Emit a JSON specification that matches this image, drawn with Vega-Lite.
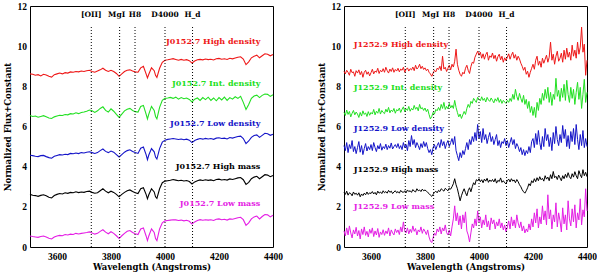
{
"$schema": "https://vega.github.io/schema/vega-lite/v6.json",
"padding": {"left": 2, "top": 0, "right": 0, "bottom": 0},
"bounds": "flush",
"spacing": 71,
"config": {"view": {"stroke": "black", "strokeWidth": 1}, "axis": {"grid": false, "domain": false, "labelColor": "black", "titleColor": "black", "tickColor": "black", "tickWidth": 1}},
"datasets": {
"lines": [{"n":"[OII]","w":3727},{"n":"MgI","w":3832},{"n":"H8","w":3889},{"n":"D4000","w":4000},{"n":"H_d","w":4102}],
"labL": [{"t":"J0152.7 High density","s":"HD","w":4353,"f":10.2},{"t":"J0152.7 Int. density","s":"ID","w":4353,"f":8.12},{"t":"J0152.7 Low density","s":"LD","w":4353,"f":6.1},{"t":"J0152.7 High mass","s":"HM","w":4353,"f":3.98},{"t":"J0152.7 Low mass","s":"LM","w":4353,"f":2.16}],
"labR": [{"t":"J1252.9 High density","s":"HD","w":3536,"f":10.05},{"t":"J1252.9 Int. density","s":"ID","w":3536,"f":7.92},{"t":"J1252.9 Low density","s":"LD","w":3536,"f":5.9},{"t":"J1252.9 High mass","s":"HM","w":3536,"f":3.82},{"t":"J1252.9 Low mass","s":"LM","w":3536,"f":2.0}],
"L": [
{"s":"HM","w":3500,"f":2.62},{"s":"HM","w":3510,"f":2.58},{"s":"HM","w":3520,"f":2.56},{"s":"HM","w":3530,"f":2.52},{"s":"HM","w":3540,"f":2.57},{"s":"HM","w":3550,"f":2.60},{"s":"HM","w":3560,"f":2.55},{"s":"HM","w":3570,"f":2.48},{"s":"HM","w":3580,"f":2.44},{"s":"HM","w":3590,"f":2.56},
{"s":"HM","w":3600,"f":2.62},{"s":"HM","w":3610,"f":2.66},{"s":"HM","w":3620,"f":2.64},{"s":"HM","w":3630,"f":2.70},{"s":"HM","w":3640,"f":2.67},{"s":"HM","w":3650,"f":2.72},{"s":"HM","w":3660,"f":2.70},{"s":"HM","w":3670,"f":2.75},{"s":"HM","w":3680,"f":2.71},{"s":"HM","w":3690,"f":2.74},
{"s":"HM","w":3700,"f":2.72},{"s":"HM","w":3710,"f":2.76},{"s":"HM","w":3720,"f":2.78},{"s":"HM","w":3730,"f":2.72},{"s":"HM","w":3740,"f":2.68},{"s":"HM","w":3750,"f":2.70},{"s":"HM","w":3760,"f":2.80},{"s":"HM","w":3770,"f":2.90},{"s":"HM","w":3780,"f":2.78},{"s":"HM","w":3790,"f":2.70},
{"s":"HM","w":3800,"f":2.78},{"s":"HM","w":3810,"f":2.72},{"s":"HM","w":3820,"f":2.62},{"s":"HM","w":3830,"f":2.50},{"s":"HM","w":3840,"f":2.62},{"s":"HM","w":3850,"f":2.72},{"s":"HM","w":3860,"f":2.80},{"s":"HM","w":3870,"f":2.84},{"s":"HM","w":3880,"f":2.76},{"s":"HM","w":3890,"f":2.70},
{"s":"HM","w":3900,"f":2.66},{"s":"HM","w":3910,"f":2.90},{"s":"HM","w":3920,"f":2.95},{"s":"HM","w":3930,"f":2.62},{"s":"HM","w":3935,"f":2.40},{"s":"HM","w":3940,"f":2.60},{"s":"HM","w":3950,"f":2.90},{"s":"HM","w":3960,"f":2.74},{"s":"HM","w":3965,"f":2.50},{"s":"HM","w":3970,"f":2.42},
{"s":"HM","w":3980,"f":2.90},{"s":"HM","w":3990,"f":3.20},{"s":"HM","w":4000,"f":3.28},{"s":"HM","w":4010,"f":3.30},{"s":"HM","w":4020,"f":3.32},{"s":"HM","w":4030,"f":3.36},{"s":"HM","w":4040,"f":3.33},{"s":"HM","w":4050,"f":3.30},{"s":"HM","w":4060,"f":3.32},{"s":"HM","w":4070,"f":3.29},
{"s":"HM","w":4080,"f":3.31},{"s":"HM","w":4090,"f":3.26},{"s":"HM","w":4100,"f":3.14},{"s":"HM","w":4110,"f":3.24},{"s":"HM","w":4120,"f":3.30},{"s":"HM","w":4130,"f":3.34},{"s":"HM","w":4140,"f":3.31},{"s":"HM","w":4150,"f":3.35},{"s":"HM","w":4160,"f":3.32},{"s":"HM","w":4170,"f":3.34},
{"s":"HM","w":4180,"f":3.30},{"s":"HM","w":4190,"f":3.36},{"s":"HM","w":4200,"f":3.38},{"s":"HM","w":4210,"f":3.34},{"s":"HM","w":4220,"f":3.36},{"s":"HM","w":4230,"f":3.33},{"s":"HM","w":4240,"f":3.39},{"s":"HM","w":4250,"f":3.36},{"s":"HM","w":4260,"f":3.40},{"s":"HM","w":4270,"f":3.44},
{"s":"HM","w":4280,"f":3.46},{"s":"HM","w":4290,"f":3.35},{"s":"HM","w":4300,"f":3.12},{"s":"HM","w":4310,"f":3.22},{"s":"HM","w":4320,"f":3.40},{"s":"HM","w":4330,"f":3.48},{"s":"HM","w":4340,"f":3.52},{"s":"HM","w":4350,"f":3.40},{"s":"HM","w":4360,"f":3.50},{"s":"HM","w":4370,"f":3.60},
{"s":"HM","w":4380,"f":3.58},{"s":"HM","w":4390,"f":3.50},{"s":"HM","w":4400,"f":3.56},
{"s":"HD","w":3500,"f":8.62},{"s":"HD","w":3510,"f":8.60},{"s":"HD","w":3520,"f":8.55},{"s":"HD","w":3530,"f":8.58},{"s":"HD","w":3540,"f":8.52},{"s":"HD","w":3550,"f":8.60},{"s":"HD","w":3560,"f":8.56},{"s":"HD","w":3570,"f":8.50},{"s":"HD","w":3580,"f":8.46},{"s":"HD","w":3590,"f":8.58},
{"s":"HD","w":3600,"f":8.62},{"s":"HD","w":3610,"f":8.66},{"s":"HD","w":3620,"f":8.62},{"s":"HD","w":3630,"f":8.68},{"s":"HD","w":3640,"f":8.66},{"s":"HD","w":3650,"f":8.72},{"s":"HD","w":3660,"f":8.70},{"s":"HD","w":3670,"f":8.74},{"s":"HD","w":3680,"f":8.72},{"s":"HD","w":3690,"f":8.76},
{"s":"HD","w":3700,"f":8.74},{"s":"HD","w":3710,"f":8.78},{"s":"HD","w":3720,"f":8.80},{"s":"HD","w":3730,"f":8.74},{"s":"HD","w":3740,"f":8.70},{"s":"HD","w":3750,"f":8.76},{"s":"HD","w":3760,"f":8.82},{"s":"HD","w":3770,"f":8.90},{"s":"HD","w":3780,"f":8.80},{"s":"HD","w":3790,"f":8.74},
{"s":"HD","w":3800,"f":8.80},{"s":"HD","w":3810,"f":8.74},{"s":"HD","w":3820,"f":8.64},{"s":"HD","w":3830,"f":8.50},{"s":"HD","w":3840,"f":8.62},{"s":"HD","w":3850,"f":8.74},{"s":"HD","w":3860,"f":8.80},{"s":"HD","w":3870,"f":8.82},{"s":"HD","w":3880,"f":8.76},{"s":"HD","w":3890,"f":8.72},
{"s":"HD","w":3900,"f":8.70},{"s":"HD","w":3910,"f":8.92},{"s":"HD","w":3920,"f":9.00},{"s":"HD","w":3930,"f":8.62},{"s":"HD","w":3935,"f":8.42},{"s":"HD","w":3940,"f":8.60},{"s":"HD","w":3950,"f":8.92},{"s":"HD","w":3960,"f":8.78},{"s":"HD","w":3965,"f":8.55},{"s":"HD","w":3970,"f":8.44},
{"s":"HD","w":3980,"f":8.90},{"s":"HD","w":3990,"f":9.20},{"s":"HD","w":4000,"f":9.30},{"s":"HD","w":4010,"f":9.32},{"s":"HD","w":4020,"f":9.35},{"s":"HD","w":4030,"f":9.38},{"s":"HD","w":4040,"f":9.34},{"s":"HD","w":4050,"f":9.30},{"s":"HD","w":4060,"f":9.34},{"s":"HD","w":4070,"f":9.30},
{"s":"HD","w":4080,"f":9.33},{"s":"HD","w":4090,"f":9.28},{"s":"HD","w":4100,"f":9.16},{"s":"HD","w":4110,"f":9.26},{"s":"HD","w":4120,"f":9.32},{"s":"HD","w":4130,"f":9.34},{"s":"HD","w":4140,"f":9.32},{"s":"HD","w":4150,"f":9.36},{"s":"HD","w":4160,"f":9.33},{"s":"HD","w":4170,"f":9.35},
{"s":"HD","w":4180,"f":9.31},{"s":"HD","w":4190,"f":9.37},{"s":"HD","w":4200,"f":9.39},{"s":"HD","w":4210,"f":9.35},{"s":"HD","w":4220,"f":9.37},{"s":"HD","w":4230,"f":9.34},{"s":"HD","w":4240,"f":9.40},{"s":"HD","w":4250,"f":9.37},{"s":"HD","w":4260,"f":9.41},{"s":"HD","w":4270,"f":9.45},
{"s":"HD","w":4280,"f":9.47},{"s":"HD","w":4290,"f":9.36},{"s":"HD","w":4300,"f":9.08},{"s":"HD","w":4310,"f":9.22},{"s":"HD","w":4320,"f":9.42},{"s":"HD","w":4330,"f":9.50},{"s":"HD","w":4340,"f":9.55},{"s":"HD","w":4350,"f":9.42},{"s":"HD","w":4360,"f":9.52},{"s":"HD","w":4370,"f":9.62},
{"s":"HD","w":4380,"f":9.60},{"s":"HD","w":4390,"f":9.52},{"s":"HD","w":4400,"f":9.58},
{"s":"ID","w":3500,"f":6.55},{"s":"ID","w":3510,"f":6.50},{"s":"ID","w":3520,"f":6.52},{"s":"ID","w":3530,"f":6.46},{"s":"ID","w":3540,"f":6.50},{"s":"ID","w":3550,"f":6.54},{"s":"ID","w":3560,"f":6.48},{"s":"ID","w":3570,"f":6.42},{"s":"ID","w":3580,"f":6.40},{"s":"ID","w":3590,"f":6.48},
{"s":"ID","w":3600,"f":6.52},{"s":"ID","w":3610,"f":6.56},{"s":"ID","w":3620,"f":6.55},{"s":"ID","w":3630,"f":6.60},{"s":"ID","w":3640,"f":6.58},{"s":"ID","w":3650,"f":6.64},{"s":"ID","w":3660,"f":6.62},{"s":"ID","w":3670,"f":6.68},{"s":"ID","w":3680,"f":6.64},{"s":"ID","w":3690,"f":6.70},
{"s":"ID","w":3700,"f":6.72},{"s":"ID","w":3710,"f":6.76},{"s":"ID","w":3720,"f":6.82},{"s":"ID","w":3730,"f":6.78},{"s":"ID","w":3740,"f":6.70},{"s":"ID","w":3750,"f":6.78},{"s":"ID","w":3760,"f":6.90},{"s":"ID","w":3770,"f":6.98},{"s":"ID","w":3780,"f":6.80},{"s":"ID","w":3790,"f":6.72},
{"s":"ID","w":3800,"f":6.88},{"s":"ID","w":3810,"f":6.76},{"s":"ID","w":3820,"f":6.60},{"s":"ID","w":3830,"f":6.45},{"s":"ID","w":3840,"f":6.62},{"s":"ID","w":3850,"f":6.78},{"s":"ID","w":3860,"f":6.86},{"s":"ID","w":3870,"f":6.90},{"s":"ID","w":3880,"f":6.80},{"s":"ID","w":3890,"f":6.74},
{"s":"ID","w":3900,"f":6.72},{"s":"ID","w":3910,"f":7.00},{"s":"ID","w":3920,"f":7.05},{"s":"ID","w":3930,"f":6.62},{"s":"ID","w":3935,"f":6.38},{"s":"ID","w":3940,"f":6.62},{"s":"ID","w":3950,"f":7.00},{"s":"ID","w":3960,"f":6.80},{"s":"ID","w":3965,"f":6.50},{"s":"ID","w":3970,"f":6.38},
{"s":"ID","w":3980,"f":6.95},{"s":"ID","w":3990,"f":7.30},{"s":"ID","w":4000,"f":7.40},{"s":"ID","w":4010,"f":7.42},{"s":"ID","w":4020,"f":7.45},{"s":"ID","w":4030,"f":7.40},{"s":"ID","w":4040,"f":7.46},{"s":"ID","w":4050,"f":7.36},{"s":"ID","w":4060,"f":7.44},{"s":"ID","w":4070,"f":7.38},
{"s":"ID","w":4080,"f":7.42},{"s":"ID","w":4090,"f":7.35},{"s":"ID","w":4100,"f":7.22},{"s":"ID","w":4110,"f":7.36},{"s":"ID","w":4120,"f":7.42},{"s":"ID","w":4130,"f":7.30},{"s":"ID","w":4140,"f":7.44},{"s":"ID","w":4150,"f":7.34},{"s":"ID","w":4160,"f":7.46},{"s":"ID","w":4170,"f":7.30},
{"s":"ID","w":4180,"f":7.42},{"s":"ID","w":4190,"f":7.28},{"s":"ID","w":4200,"f":7.44},{"s":"ID","w":4210,"f":7.32},{"s":"ID","w":4220,"f":7.46},{"s":"ID","w":4230,"f":7.30},{"s":"ID","w":4240,"f":7.44},{"s":"ID","w":4250,"f":7.36},{"s":"ID","w":4260,"f":7.48},{"s":"ID","w":4270,"f":7.40},
{"s":"ID","w":4280,"f":7.50},{"s":"ID","w":4290,"f":7.20},{"s":"ID","w":4300,"f":6.85},{"s":"ID","w":4310,"f":7.10},{"s":"ID","w":4320,"f":7.40},{"s":"ID","w":4330,"f":7.52},{"s":"ID","w":4340,"f":7.56},{"s":"ID","w":4350,"f":7.44},{"s":"ID","w":4360,"f":7.55},{"s":"ID","w":4370,"f":7.62},
{"s":"ID","w":4380,"f":7.60},{"s":"ID","w":4390,"f":7.50},{"s":"ID","w":4400,"f":7.58},
{"s":"LD","w":3500,"f":4.57},{"s":"LD","w":3510,"f":4.55},{"s":"LD","w":3520,"f":4.52},{"s":"LD","w":3530,"f":4.50},{"s":"LD","w":3540,"f":4.55},{"s":"LD","w":3550,"f":4.56},{"s":"LD","w":3560,"f":4.50},{"s":"LD","w":3570,"f":4.45},{"s":"LD","w":3580,"f":4.42},{"s":"LD","w":3590,"f":4.52},
{"s":"LD","w":3600,"f":4.56},{"s":"LD","w":3610,"f":4.60},{"s":"LD","w":3620,"f":4.58},{"s":"LD","w":3630,"f":4.62},{"s":"LD","w":3640,"f":4.60},{"s":"LD","w":3650,"f":4.66},{"s":"LD","w":3660,"f":4.64},{"s":"LD","w":3670,"f":4.68},{"s":"LD","w":3680,"f":4.65},{"s":"LD","w":3690,"f":4.70},
{"s":"LD","w":3700,"f":4.68},{"s":"LD","w":3710,"f":4.72},{"s":"LD","w":3720,"f":4.74},{"s":"LD","w":3730,"f":4.70},{"s":"LD","w":3740,"f":4.66},{"s":"LD","w":3750,"f":4.70},{"s":"LD","w":3760,"f":4.80},{"s":"LD","w":3770,"f":4.88},{"s":"LD","w":3780,"f":4.76},{"s":"LD","w":3790,"f":4.70},
{"s":"LD","w":3800,"f":4.78},{"s":"LD","w":3810,"f":4.72},{"s":"LD","w":3820,"f":4.60},{"s":"LD","w":3830,"f":4.48},{"s":"LD","w":3840,"f":4.60},{"s":"LD","w":3850,"f":4.72},{"s":"LD","w":3860,"f":4.80},{"s":"LD","w":3870,"f":4.84},{"s":"LD","w":3880,"f":4.76},{"s":"LD","w":3890,"f":4.70},
{"s":"LD","w":3900,"f":4.66},{"s":"LD","w":3910,"f":4.92},{"s":"LD","w":3920,"f":4.98},{"s":"LD","w":3930,"f":4.60},{"s":"LD","w":3935,"f":4.35},{"s":"LD","w":3940,"f":4.58},{"s":"LD","w":3950,"f":4.90},{"s":"LD","w":3960,"f":4.74},{"s":"LD","w":3965,"f":4.48},{"s":"LD","w":3970,"f":4.38},
{"s":"LD","w":3980,"f":4.90},{"s":"LD","w":3990,"f":5.22},{"s":"LD","w":4000,"f":5.32},{"s":"LD","w":4010,"f":5.36},{"s":"LD","w":4020,"f":5.38},{"s":"LD","w":4030,"f":5.40},{"s":"LD","w":4040,"f":5.38},{"s":"LD","w":4050,"f":5.35},{"s":"LD","w":4060,"f":5.38},{"s":"LD","w":4070,"f":5.34},
{"s":"LD","w":4080,"f":5.37},{"s":"LD","w":4090,"f":5.32},{"s":"LD","w":4100,"f":5.20},{"s":"LD","w":4110,"f":5.30},{"s":"LD","w":4120,"f":5.36},{"s":"LD","w":4130,"f":5.40},{"s":"LD","w":4140,"f":5.37},{"s":"LD","w":4150,"f":5.41},{"s":"LD","w":4160,"f":5.38},{"s":"LD","w":4170,"f":5.40},
{"s":"LD","w":4180,"f":5.36},{"s":"LD","w":4190,"f":5.42},{"s":"LD","w":4200,"f":5.44},{"s":"LD","w":4210,"f":5.40},{"s":"LD","w":4220,"f":5.42},{"s":"LD","w":4230,"f":5.38},{"s":"LD","w":4240,"f":5.45},{"s":"LD","w":4250,"f":5.42},{"s":"LD","w":4260,"f":5.46},{"s":"LD","w":4270,"f":5.50},
{"s":"LD","w":4280,"f":5.52},{"s":"LD","w":4290,"f":5.40},{"s":"LD","w":4300,"f":5.15},{"s":"LD","w":4310,"f":5.28},{"s":"LD","w":4320,"f":5.46},{"s":"LD","w":4330,"f":5.55},{"s":"LD","w":4340,"f":5.58},{"s":"LD","w":4350,"f":5.46},{"s":"LD","w":4360,"f":5.56},{"s":"LD","w":4370,"f":5.66},
{"s":"LD","w":4380,"f":5.64},{"s":"LD","w":4390,"f":5.56},{"s":"LD","w":4400,"f":5.62},
{"s":"LM","w":3500,"f":0.55},{"s":"LM","w":3510,"f":0.52},{"s":"LM","w":3520,"f":0.50},{"s":"LM","w":3530,"f":0.48},{"s":"LM","w":3540,"f":0.52},{"s":"LM","w":3550,"f":0.55},{"s":"LM","w":3560,"f":0.50},{"s":"LM","w":3570,"f":0.44},{"s":"LM","w":3580,"f":0.40},{"s":"LM","w":3590,"f":0.50},
{"s":"LM","w":3600,"f":0.55},{"s":"LM","w":3610,"f":0.58},{"s":"LM","w":3620,"f":0.56},{"s":"LM","w":3630,"f":0.62},{"s":"LM","w":3640,"f":0.60},{"s":"LM","w":3650,"f":0.64},{"s":"LM","w":3660,"f":0.62},{"s":"LM","w":3670,"f":0.68},{"s":"LM","w":3680,"f":0.65},{"s":"LM","w":3690,"f":0.68},
{"s":"LM","w":3700,"f":0.70},{"s":"LM","w":3710,"f":0.72},{"s":"LM","w":3720,"f":0.75},{"s":"LM","w":3730,"f":0.70},{"s":"LM","w":3740,"f":0.64},{"s":"LM","w":3750,"f":0.68},{"s":"LM","w":3760,"f":0.78},{"s":"LM","w":3770,"f":0.86},{"s":"LM","w":3780,"f":0.74},{"s":"LM","w":3790,"f":0.66},
{"s":"LM","w":3800,"f":0.76},{"s":"LM","w":3810,"f":0.68},{"s":"LM","w":3820,"f":0.56},{"s":"LM","w":3830,"f":0.42},{"s":"LM","w":3840,"f":0.56},{"s":"LM","w":3850,"f":0.68},{"s":"LM","w":3860,"f":0.78},{"s":"LM","w":3870,"f":0.82},{"s":"LM","w":3880,"f":0.72},{"s":"LM","w":3890,"f":0.66},
{"s":"LM","w":3900,"f":0.62},{"s":"LM","w":3910,"f":0.90},{"s":"LM","w":3920,"f":0.95},{"s":"LM","w":3930,"f":0.55},{"s":"LM","w":3935,"f":0.32},{"s":"LM","w":3940,"f":0.55},{"s":"LM","w":3950,"f":0.90},{"s":"LM","w":3960,"f":0.72},{"s":"LM","w":3965,"f":0.42},{"s":"LM","w":3970,"f":0.32},
{"s":"LM","w":3980,"f":0.90},{"s":"LM","w":3990,"f":1.20},{"s":"LM","w":4000,"f":1.30},{"s":"LM","w":4010,"f":1.32},{"s":"LM","w":4020,"f":1.34},{"s":"LM","w":4030,"f":1.36},{"s":"LM","w":4040,"f":1.35},{"s":"LM","w":4050,"f":1.32},{"s":"LM","w":4060,"f":1.34},{"s":"LM","w":4070,"f":1.30},
{"s":"LM","w":4080,"f":1.33},{"s":"LM","w":4090,"f":1.28},{"s":"LM","w":4100,"f":1.14},{"s":"LM","w":4110,"f":1.25},{"s":"LM","w":4120,"f":1.32},{"s":"LM","w":4130,"f":1.36},{"s":"LM","w":4140,"f":1.33},{"s":"LM","w":4150,"f":1.36},{"s":"LM","w":4160,"f":1.34},{"s":"LM","w":4170,"f":1.36},
{"s":"LM","w":4180,"f":1.32},{"s":"LM","w":4190,"f":1.38},{"s":"LM","w":4200,"f":1.40},{"s":"LM","w":4210,"f":1.36},{"s":"LM","w":4220,"f":1.38},{"s":"LM","w":4230,"f":1.34},{"s":"LM","w":4240,"f":1.40},{"s":"LM","w":4250,"f":1.38},{"s":"LM","w":4260,"f":1.42},{"s":"LM","w":4270,"f":1.46},
{"s":"LM","w":4280,"f":1.48},{"s":"LM","w":4290,"f":1.36},{"s":"LM","w":4300,"f":1.08},{"s":"LM","w":4310,"f":1.20},{"s":"LM","w":4320,"f":1.40},{"s":"LM","w":4330,"f":1.50},{"s":"LM","w":4340,"f":1.54},{"s":"LM","w":4350,"f":1.40},{"s":"LM","w":4360,"f":1.52},{"s":"LM","w":4370,"f":1.62},
{"s":"LM","w":4380,"f":1.60},{"s":"LM","w":4390,"f":1.50},{"s":"LM","w":4400,"f":1.58}
],
"R": [
{"s":"HD","w":3500,"f":8.75},{"s":"HD","w":3505,"f":8.62},{"s":"HD","w":3510,"f":8.80},{"s":"HD","w":3515,"f":8.70},{"s":"HD","w":3520,"f":8.55},{"s":"HD","w":3525,"f":8.85},{"s":"HD","w":3530,"f":8.68},{"s":"HD","w":3535,"f":8.72},{"s":"HD","w":3540,"f":8.50},{"s":"HD","w":3545,"f":8.78},
{"s":"HD","w":3550,"f":8.66},{"s":"HD","w":3555,"f":8.82},{"s":"HD","w":3560,"f":8.58},{"s":"HD","w":3565,"f":8.74},{"s":"HD","w":3570,"f":8.45},{"s":"HD","w":3575,"f":8.70},{"s":"HD","w":3580,"f":8.80},{"s":"HD","w":3585,"f":8.60},{"s":"HD","w":3590,"f":8.72},{"s":"HD","w":3595,"f":8.52},
{"s":"HD","w":3600,"f":8.68},{"s":"HD","w":3605,"f":8.85},{"s":"HD","w":3610,"f":8.62},{"s":"HD","w":3615,"f":8.76},{"s":"HD","w":3620,"f":8.70},{"s":"HD","w":3625,"f":8.90},{"s":"HD","w":3630,"f":8.64},{"s":"HD","w":3635,"f":8.80},{"s":"HD","w":3640,"f":8.72},{"s":"HD","w":3645,"f":8.88},
{"s":"HD","w":3650,"f":8.70},{"s":"HD","w":3655,"f":8.95},{"s":"HD","w":3660,"f":8.78},{"s":"HD","w":3665,"f":8.66},{"s":"HD","w":3670,"f":8.86},{"s":"HD","w":3675,"f":8.74},{"s":"HD","w":3680,"f":8.92},{"s":"HD","w":3685,"f":8.70},{"s":"HD","w":3690,"f":8.84},{"s":"HD","w":3695,"f":8.76},
{"s":"HD","w":3700,"f":8.90},{"s":"HD","w":3705,"f":8.72},{"s":"HD","w":3710,"f":8.86},{"s":"HD","w":3715,"f":8.80},{"s":"HD","w":3720,"f":8.95},{"s":"HD","w":3725,"f":8.70},{"s":"HD","w":3730,"f":8.84},{"s":"HD","w":3735,"f":8.92},{"s":"HD","w":3740,"f":8.76},{"s":"HD","w":3745,"f":8.88},
{"s":"HD","w":3750,"f":8.82},{"s":"HD","w":3755,"f":8.96},{"s":"HD","w":3760,"f":8.78},{"s":"HD","w":3765,"f":9.05},{"s":"HD","w":3770,"f":8.86},{"s":"HD","w":3775,"f":8.94},{"s":"HD","w":3780,"f":9.10},{"s":"HD","w":3785,"f":8.88},{"s":"HD","w":3790,"f":9.00},{"s":"HD","w":3795,"f":8.84},
{"s":"HD","w":3800,"f":8.92},{"s":"HD","w":3805,"f":8.78},{"s":"HD","w":3810,"f":8.86},{"s":"HD","w":3815,"f":8.70},{"s":"HD","w":3820,"f":8.62},{"s":"HD","w":3825,"f":8.50},{"s":"HD","w":3830,"f":8.66},{"s":"HD","w":3835,"f":8.80},{"s":"HD","w":3840,"f":8.72},{"s":"HD","w":3845,"f":8.90},
{"s":"HD","w":3850,"f":8.84},{"s":"HD","w":3855,"f":9.00},{"s":"HD","w":3860,"f":8.78},{"s":"HD","w":3865,"f":9.50},{"s":"HD","w":3870,"f":8.86},{"s":"HD","w":3875,"f":8.95},{"s":"HD","w":3880,"f":8.74},{"s":"HD","w":3885,"f":8.90},{"s":"HD","w":3890,"f":9.05},{"s":"HD","w":3895,"f":8.82},
{"s":"HD","w":3900,"f":9.10},{"s":"HD","w":3905,"f":8.96},{"s":"HD","w":3910,"f":9.25},{"s":"HD","w":3915,"f":9.85},{"s":"HD","w":3920,"f":9.10},{"s":"HD","w":3925,"f":8.80},{"s":"HD","w":3930,"f":8.60},{"s":"HD","w":3935,"f":8.50},{"s":"HD","w":3940,"f":8.70},{"s":"HD","w":3945,"f":8.62},
{"s":"HD","w":3950,"f":8.90},{"s":"HD","w":3955,"f":9.05},{"s":"HD","w":3960,"f":8.80},{"s":"HD","w":3965,"f":8.64},{"s":"HD","w":3970,"f":8.98},{"s":"HD","w":3975,"f":9.20},{"s":"HD","w":3980,"f":9.15},{"s":"HD","w":3985,"f":9.45},{"s":"HD","w":3990,"f":9.60},{"s":"HD","w":3995,"f":9.75},
{"s":"HD","w":4000,"f":9.55},{"s":"HD","w":4005,"f":9.70},{"s":"HD","w":4010,"f":9.40},{"s":"HD","w":4015,"f":9.62},{"s":"HD","w":4020,"f":9.35},{"s":"HD","w":4025,"f":9.58},{"s":"HD","w":4030,"f":9.70},{"s":"HD","w":4035,"f":9.30},{"s":"HD","w":4040,"f":9.52},{"s":"HD","w":4045,"f":9.44},
{"s":"HD","w":4050,"f":9.66},{"s":"HD","w":4055,"f":9.38},{"s":"HD","w":4060,"f":9.55},{"s":"HD","w":4065,"f":9.25},{"s":"HD","w":4070,"f":9.48},{"s":"HD","w":4075,"f":9.60},{"s":"HD","w":4080,"f":9.32},{"s":"HD","w":4085,"f":9.50},{"s":"HD","w":4090,"f":9.20},{"s":"HD","w":4095,"f":9.42},
{"s":"HD","w":4100,"f":9.28},{"s":"HD","w":4105,"f":9.45},{"s":"HD","w":4110,"f":9.62},{"s":"HD","w":4115,"f":9.35},{"s":"HD","w":4120,"f":9.55},{"s":"HD","w":4125,"f":9.70},{"s":"HD","w":4130,"f":9.40},{"s":"HD","w":4135,"f":9.58},{"s":"HD","w":4140,"f":9.30},{"s":"HD","w":4145,"f":9.50},
{"s":"HD","w":4150,"f":9.36},{"s":"HD","w":4155,"f":9.15},{"s":"HD","w":4160,"f":9.00},{"s":"HD","w":4165,"f":8.80},{"s":"HD","w":4170,"f":8.95},{"s":"HD","w":4175,"f":8.60},{"s":"HD","w":4180,"f":8.75},{"s":"HD","w":4185,"f":8.45},{"s":"HD","w":4190,"f":8.70},{"s":"HD","w":4195,"f":8.90},
{"s":"HD","w":4200,"f":9.10},{"s":"HD","w":4205,"f":8.85},{"s":"HD","w":4210,"f":9.30},{"s":"HD","w":4215,"f":9.50},{"s":"HD","w":4220,"f":9.05},{"s":"HD","w":4225,"f":9.25},{"s":"HD","w":4230,"f":8.95},{"s":"HD","w":4235,"f":9.40},{"s":"HD","w":4240,"f":9.15},{"s":"HD","w":4245,"f":9.35},
{"s":"HD","w":4250,"f":9.55},{"s":"HD","w":4255,"f":9.20},{"s":"HD","w":4260,"f":9.45},{"s":"HD","w":4265,"f":10.20},{"s":"HD","w":4270,"f":9.30},{"s":"HD","w":4275,"f":9.60},{"s":"HD","w":4280,"f":9.10},{"s":"HD","w":4285,"f":9.50},{"s":"HD","w":4290,"f":9.75},{"s":"HD","w":4295,"f":9.25},
{"s":"HD","w":4300,"f":9.40},{"s":"HD","w":4305,"f":9.65},{"s":"HD","w":4310,"f":9.20},{"s":"HD","w":4315,"f":9.80},{"s":"HD","w":4320,"f":9.35},{"s":"HD","w":4325,"f":9.90},{"s":"HD","w":4330,"f":9.45},{"s":"HD","w":4335,"f":9.70},{"s":"HD","w":4340,"f":9.30},{"s":"HD","w":4345,"f":10.05},
{"s":"HD","w":4350,"f":9.50},{"s":"HD","w":4355,"f":9.80},{"s":"HD","w":4360,"f":9.40},{"s":"HD","w":4365,"f":10.20},{"s":"HD","w":4370,"f":9.60},{"s":"HD","w":4375,"f":9.95},{"s":"HD","w":4380,"f":10.95},{"s":"HD","w":4385,"f":9.70},{"s":"HD","w":4390,"f":10.10},{"s":"HD","w":4395,"f":8.55},
{"s":"HD","w":4400,"f":9.30},
{"s":"ID","w":3500,"f":6.70},{"s":"ID","w":3505,"f":6.55},{"s":"ID","w":3510,"f":6.82},{"s":"ID","w":3515,"f":6.60},{"s":"ID","w":3520,"f":6.75},{"s":"ID","w":3525,"f":6.48},{"s":"ID","w":3530,"f":6.66},{"s":"ID","w":3535,"f":6.80},{"s":"ID","w":3540,"f":6.58},{"s":"ID","w":3545,"f":6.72},
{"s":"ID","w":3550,"f":6.62},{"s":"ID","w":3555,"f":6.45},{"s":"ID","w":3560,"f":6.70},{"s":"ID","w":3565,"f":6.52},{"s":"ID","w":3570,"f":6.78},{"s":"ID","w":3575,"f":6.60},{"s":"ID","w":3580,"f":6.68},{"s":"ID","w":3585,"f":6.50},{"s":"ID","w":3590,"f":6.74},{"s":"ID","w":3595,"f":6.56},
{"s":"ID","w":3600,"f":6.70},{"s":"ID","w":3605,"f":6.62},{"s":"ID","w":3610,"f":6.85},{"s":"ID","w":3615,"f":6.58},{"s":"ID","w":3620,"f":6.76},{"s":"ID","w":3625,"f":6.66},{"s":"ID","w":3630,"f":6.90},{"s":"ID","w":3635,"f":6.62},{"s":"ID","w":3640,"f":6.80},{"s":"ID","w":3645,"f":6.70},
{"s":"ID","w":3650,"f":6.64},{"s":"ID","w":3655,"f":6.86},{"s":"ID","w":3660,"f":6.72},{"s":"ID","w":3665,"f":6.95},{"s":"ID","w":3670,"f":6.68},{"s":"ID","w":3675,"f":6.82},{"s":"ID","w":3680,"f":6.74},{"s":"ID","w":3685,"f":6.90},{"s":"ID","w":3690,"f":6.66},{"s":"ID","w":3695,"f":6.84},
{"s":"ID","w":3700,"f":6.78},{"s":"ID","w":3705,"f":6.92},{"s":"ID","w":3710,"f":6.70},{"s":"ID","w":3715,"f":6.86},{"s":"ID","w":3720,"f":6.98},{"s":"ID","w":3725,"f":6.74},{"s":"ID","w":3730,"f":6.88},{"s":"ID","w":3735,"f":6.80},{"s":"ID","w":3740,"f":7.00},{"s":"ID","w":3745,"f":6.76},
{"s":"ID","w":3750,"f":6.90},{"s":"ID","w":3755,"f":6.82},{"s":"ID","w":3760,"f":7.05},{"s":"ID","w":3765,"f":6.86},{"s":"ID","w":3770,"f":6.96},{"s":"ID","w":3775,"f":6.78},{"s":"ID","w":3780,"f":7.10},{"s":"ID","w":3785,"f":6.88},{"s":"ID","w":3790,"f":6.94},{"s":"ID","w":3795,"f":6.80},
{"s":"ID","w":3800,"f":6.92},{"s":"ID","w":3805,"f":6.74},{"s":"ID","w":3810,"f":6.86},{"s":"ID","w":3815,"f":6.60},{"s":"ID","w":3820,"f":6.38},{"s":"ID","w":3825,"f":6.50},{"s":"ID","w":3830,"f":6.70},{"s":"ID","w":3835,"f":6.62},{"s":"ID","w":3840,"f":6.85},{"s":"ID","w":3845,"f":6.78},
{"s":"ID","w":3850,"f":6.95},{"s":"ID","w":3855,"f":6.80},{"s":"ID","w":3860,"f":7.10},{"s":"ID","w":3865,"f":6.90},{"s":"ID","w":3870,"f":7.20},{"s":"ID","w":3875,"f":6.85},{"s":"ID","w":3880,"f":7.00},{"s":"ID","w":3885,"f":6.88},{"s":"ID","w":3890,"f":7.15},{"s":"ID","w":3895,"f":6.92},
{"s":"ID","w":3900,"f":7.05},{"s":"ID","w":3905,"f":6.90},{"s":"ID","w":3910,"f":7.30},{"s":"ID","w":3915,"f":6.95},{"s":"ID","w":3920,"f":6.70},{"s":"ID","w":3925,"f":6.48},{"s":"ID","w":3930,"f":6.62},{"s":"ID","w":3935,"f":6.40},{"s":"ID","w":3940,"f":6.58},{"s":"ID","w":3945,"f":6.75},
{"s":"ID","w":3950,"f":6.60},{"s":"ID","w":3955,"f":6.90},{"s":"ID","w":3960,"f":7.10},{"s":"ID","w":3965,"f":6.95},{"s":"ID","w":3970,"f":7.25},{"s":"ID","w":3975,"f":7.15},{"s":"ID","w":3980,"f":7.40},{"s":"ID","w":3985,"f":7.30},{"s":"ID","w":3990,"f":7.20},{"s":"ID","w":3995,"f":7.45},
{"s":"ID","w":4000,"f":7.35},{"s":"ID","w":4005,"f":7.28},{"s":"ID","w":4010,"f":7.48},{"s":"ID","w":4015,"f":7.30},{"s":"ID","w":4020,"f":7.40},{"s":"ID","w":4025,"f":7.22},{"s":"ID","w":4030,"f":7.45},{"s":"ID","w":4035,"f":7.32},{"s":"ID","w":4040,"f":7.25},{"s":"ID","w":4045,"f":7.42},
{"s":"ID","w":4050,"f":7.30},{"s":"ID","w":4055,"f":7.18},{"s":"ID","w":4060,"f":7.38},{"s":"ID","w":4065,"f":7.26},{"s":"ID","w":4070,"f":7.44},{"s":"ID","w":4075,"f":7.20},{"s":"ID","w":4080,"f":7.35},{"s":"ID","w":4085,"f":7.15},{"s":"ID","w":4090,"f":7.30},{"s":"ID","w":4095,"f":7.22},
{"s":"ID","w":4100,"f":7.15},{"s":"ID","w":4105,"f":7.30},{"s":"ID","w":4110,"f":7.20},{"s":"ID","w":4115,"f":7.40},{"s":"ID","w":4120,"f":7.25},{"s":"ID","w":4125,"f":7.60},{"s":"ID","w":4130,"f":7.35},{"s":"ID","w":4135,"f":7.85},{"s":"ID","w":4140,"f":7.50},{"s":"ID","w":4145,"f":7.30},
{"s":"ID","w":4150,"f":7.65},{"s":"ID","w":4155,"f":7.40},{"s":"ID","w":4160,"f":7.20},{"s":"ID","w":4165,"f":7.55},{"s":"ID","w":4170,"f":7.10},{"s":"ID","w":4175,"f":7.35},{"s":"ID","w":4180,"f":6.90},{"s":"ID","w":4185,"f":7.25},{"s":"ID","w":4190,"f":6.70},{"s":"ID","w":4195,"f":7.00},
{"s":"ID","w":4200,"f":6.55},{"s":"ID","w":4205,"f":6.95},{"s":"ID","w":4210,"f":6.45},{"s":"ID","w":4215,"f":7.20},{"s":"ID","w":4220,"f":6.80},{"s":"ID","w":4225,"f":7.40},{"s":"ID","w":4230,"f":7.10},{"s":"ID","w":4235,"f":7.65},{"s":"ID","w":4240,"f":7.30},{"s":"ID","w":4245,"f":7.85},
{"s":"ID","w":4250,"f":7.40},{"s":"ID","w":4255,"f":7.95},{"s":"ID","w":4260,"f":7.20},{"s":"ID","w":4265,"f":7.70},{"s":"ID","w":4270,"f":7.05},{"s":"ID","w":4275,"f":7.60},{"s":"ID","w":4280,"f":7.35},{"s":"ID","w":4285,"f":8.40},{"s":"ID","w":4290,"f":7.50},{"s":"ID","w":4295,"f":7.80},
{"s":"ID","w":4300,"f":7.25},{"s":"ID","w":4305,"f":7.90},{"s":"ID","w":4310,"f":7.45},{"s":"ID","w":4315,"f":8.10},{"s":"ID","w":4320,"f":7.30},{"s":"ID","w":4325,"f":8.30},{"s":"ID","w":4330,"f":7.60},{"s":"ID","w":4335,"f":7.20},{"s":"ID","w":4340,"f":7.95},{"s":"ID","w":4345,"f":7.40},
{"s":"ID","w":4350,"f":7.85},{"s":"ID","w":4355,"f":7.10},{"s":"ID","w":4360,"f":7.70},{"s":"ID","w":4365,"f":8.20},{"s":"ID","w":4370,"f":7.35},{"s":"ID","w":4375,"f":7.95},{"s":"ID","w":4380,"f":6.90},{"s":"ID","w":4385,"f":7.60},{"s":"ID","w":4390,"f":8.35},{"s":"ID","w":4395,"f":7.20},
{"s":"ID","w":4400,"f":7.70},
{"s":"LD","w":3500,"f":5.05},{"s":"LD","w":3505,"f":4.80},{"s":"LD","w":3510,"f":5.20},{"s":"LD","w":3515,"f":4.70},{"s":"LD","w":3520,"f":5.10},{"s":"LD","w":3525,"f":4.90},{"s":"LD","w":3530,"f":5.30},{"s":"LD","w":3535,"f":4.75},{"s":"LD","w":3540,"f":5.00},{"s":"LD","w":3545,"f":4.65},
{"s":"LD","w":3550,"f":4.95},{"s":"LD","w":3555,"f":5.25},{"s":"LD","w":3560,"f":4.72},{"s":"LD","w":3565,"f":5.05},{"s":"LD","w":3570,"f":4.60},{"s":"LD","w":3575,"f":4.90},{"s":"LD","w":3580,"f":5.15},{"s":"LD","w":3585,"f":4.78},{"s":"LD","w":3590,"f":5.00},{"s":"LD","w":3595,"f":4.85},
{"s":"LD","w":3600,"f":5.10},{"s":"LD","w":3605,"f":4.80},{"s":"LD","w":3610,"f":5.20},{"s":"LD","w":3615,"f":4.95},{"s":"LD","w":3620,"f":4.75},{"s":"LD","w":3625,"f":5.05},{"s":"LD","w":3630,"f":4.88},{"s":"LD","w":3635,"f":5.15},{"s":"LD","w":3640,"f":4.82},{"s":"LD","w":3645,"f":5.00},
{"s":"LD","w":3650,"f":4.90},{"s":"LD","w":3655,"f":5.12},{"s":"LD","w":3660,"f":4.85},{"s":"LD","w":3665,"f":5.05},{"s":"LD","w":3670,"f":4.92},{"s":"LD","w":3675,"f":5.18},{"s":"LD","w":3680,"f":4.88},{"s":"LD","w":3685,"f":5.00},{"s":"LD","w":3690,"f":5.10},{"s":"LD","w":3695,"f":4.95},
{"s":"LD","w":3700,"f":5.15},{"s":"LD","w":3705,"f":4.90},{"s":"LD","w":3710,"f":5.05},{"s":"LD","w":3715,"f":4.85},{"s":"LD","w":3720,"f":5.20},{"s":"LD","w":3725,"f":4.95},{"s":"LD","w":3730,"f":5.10},{"s":"LD","w":3735,"f":4.80},{"s":"LD","w":3740,"f":5.30},{"s":"LD","w":3745,"f":5.00},
{"s":"LD","w":3750,"f":5.55},{"s":"LD","w":3755,"f":5.10},{"s":"LD","w":3760,"f":5.35},{"s":"LD","w":3765,"f":4.95},{"s":"LD","w":3770,"f":5.20},{"s":"LD","w":3775,"f":5.05},{"s":"LD","w":3780,"f":4.85},{"s":"LD","w":3785,"f":5.15},{"s":"LD","w":3790,"f":4.95},{"s":"LD","w":3795,"f":5.25},
{"s":"LD","w":3800,"f":5.00},{"s":"LD","w":3805,"f":5.20},{"s":"LD","w":3810,"f":4.90},{"s":"LD","w":3815,"f":4.70},{"s":"LD","w":3820,"f":4.85},{"s":"LD","w":3825,"f":4.60},{"s":"LD","w":3830,"f":4.95},{"s":"LD","w":3835,"f":5.10},{"s":"LD","w":3840,"f":4.85},{"s":"LD","w":3845,"f":5.05},
{"s":"LD","w":3850,"f":5.20},{"s":"LD","w":3855,"f":4.95},{"s":"LD","w":3860,"f":5.35},{"s":"LD","w":3865,"f":5.05},{"s":"LD","w":3870,"f":5.25},{"s":"LD","w":3875,"f":4.90},{"s":"LD","w":3880,"f":5.15},{"s":"LD","w":3885,"f":5.30},{"s":"LD","w":3890,"f":5.00},{"s":"LD","w":3895,"f":5.20},
{"s":"LD","w":3900,"f":5.40},{"s":"LD","w":3905,"f":5.10},{"s":"LD","w":3910,"f":5.50},{"s":"LD","w":3915,"f":4.80},{"s":"LD","w":3920,"f":4.55},{"s":"LD","w":3925,"f":4.30},{"s":"LD","w":3930,"f":4.70},{"s":"LD","w":3935,"f":4.45},{"s":"LD","w":3940,"f":4.80},{"s":"LD","w":3945,"f":4.60},
{"s":"LD","w":3950,"f":4.90},{"s":"LD","w":3955,"f":5.20},{"s":"LD","w":3960,"f":4.85},{"s":"LD","w":3965,"f":5.35},{"s":"LD","w":3970,"f":5.10},{"s":"LD","w":3975,"f":5.50},{"s":"LD","w":3980,"f":5.25},{"s":"LD","w":3985,"f":5.70},{"s":"LD","w":3990,"f":5.30},{"s":"LD","w":3995,"f":6.10},
{"s":"LD","w":4000,"f":5.40},{"s":"LD","w":4005,"f":5.75},{"s":"LD","w":4010,"f":5.20},{"s":"LD","w":4015,"f":5.90},{"s":"LD","w":4020,"f":5.35},{"s":"LD","w":4025,"f":5.60},{"s":"LD","w":4030,"f":5.15},{"s":"LD","w":4035,"f":5.45},{"s":"LD","w":4040,"f":5.70},{"s":"LD","w":4045,"f":5.25},
{"s":"LD","w":4050,"f":5.50},{"s":"LD","w":4055,"f":5.10},{"s":"LD","w":4060,"f":5.35},{"s":"LD","w":4065,"f":5.60},{"s":"LD","w":4070,"f":5.05},{"s":"LD","w":4075,"f":5.30},{"s":"LD","w":4080,"f":4.95},{"s":"LD","w":4085,"f":5.25},{"s":"LD","w":4090,"f":5.15},{"s":"LD","w":4095,"f":5.40},
{"s":"LD","w":4100,"f":5.05},{"s":"LD","w":4105,"f":5.30},{"s":"LD","w":4110,"f":4.95},{"s":"LD","w":4115,"f":5.20},{"s":"LD","w":4120,"f":5.45},{"s":"LD","w":4125,"f":5.10},{"s":"LD","w":4130,"f":5.35},{"s":"LD","w":4135,"f":4.90},{"s":"LD","w":4140,"f":5.15},{"s":"LD","w":4145,"f":5.00},
{"s":"LD","w":4150,"f":4.75},{"s":"LD","w":4155,"f":4.95},{"s":"LD","w":4160,"f":4.60},{"s":"LD","w":4165,"f":4.85},{"s":"LD","w":4170,"f":4.55},{"s":"LD","w":4175,"f":4.80},{"s":"LD","w":4180,"f":4.65},{"s":"LD","w":4185,"f":5.00},{"s":"LD","w":4190,"f":4.70},{"s":"LD","w":4195,"f":5.25},
{"s":"LD","w":4200,"f":5.40},{"s":"LD","w":4205,"f":4.95},{"s":"LD","w":4210,"f":5.65},{"s":"LD","w":4215,"f":5.10},{"s":"LD","w":4220,"f":5.80},{"s":"LD","w":4225,"f":5.20},{"s":"LD","w":4230,"f":4.85},{"s":"LD","w":4235,"f":5.50},{"s":"LD","w":4240,"f":5.00},{"s":"LD","w":4245,"f":5.90},
{"s":"LD","w":4250,"f":5.30},{"s":"LD","w":4255,"f":5.60},{"s":"LD","w":4260,"f":5.00},{"s":"LD","w":4265,"f":5.45},{"s":"LD","w":4270,"f":4.80},{"s":"LD","w":4275,"f":5.70},{"s":"LD","w":4280,"f":5.15},{"s":"LD","w":4285,"f":6.00},{"s":"LD","w":4290,"f":5.35},{"s":"LD","w":4295,"f":5.05},
{"s":"LD","w":4300,"f":5.60},{"s":"LD","w":4305,"f":5.20},{"s":"LD","w":4310,"f":6.05},{"s":"LD","w":4315,"f":5.40},{"s":"LD","w":4320,"f":5.85},{"s":"LD","w":4325,"f":5.00},{"s":"LD","w":4330,"f":5.55},{"s":"LD","w":4335,"f":4.90},{"s":"LD","w":4340,"f":5.75},{"s":"LD","w":4345,"f":5.25},
{"s":"LD","w":4350,"f":5.90},{"s":"LD","w":4355,"f":5.10},{"s":"LD","w":4360,"f":6.10},{"s":"LD","w":4365,"f":5.35},{"s":"LD","w":4370,"f":4.85},{"s":"LD","w":4375,"f":5.60},{"s":"LD","w":4380,"f":5.05},{"s":"LD","w":4385,"f":5.80},{"s":"LD","w":4390,"f":4.95},{"s":"LD","w":4395,"f":5.40},
{"s":"LD","w":4400,"f":5.00},
{"s":"HM","w":3500,"f":2.72},{"s":"HM","w":3505,"f":2.62},{"s":"HM","w":3510,"f":2.78},{"s":"HM","w":3515,"f":2.58},{"s":"HM","w":3520,"f":2.70},{"s":"HM","w":3525,"f":2.66},{"s":"HM","w":3530,"f":2.55},{"s":"HM","w":3535,"f":2.74},{"s":"HM","w":3540,"f":2.62},{"s":"HM","w":3545,"f":2.68},
{"s":"HM","w":3550,"f":2.58},{"s":"HM","w":3555,"f":2.70},{"s":"HM","w":3560,"f":2.50},{"s":"HM","w":3565,"f":2.64},{"s":"HM","w":3570,"f":2.56},{"s":"HM","w":3575,"f":2.68},{"s":"HM","w":3580,"f":2.60},{"s":"HM","w":3585,"f":2.74},{"s":"HM","w":3590,"f":2.62},{"s":"HM","w":3595,"f":2.70},
{"s":"HM","w":3600,"f":2.66},{"s":"HM","w":3605,"f":2.76},{"s":"HM","w":3610,"f":2.64},{"s":"HM","w":3615,"f":2.72},{"s":"HM","w":3620,"f":2.60},{"s":"HM","w":3625,"f":2.78},{"s":"HM","w":3630,"f":2.68},{"s":"HM","w":3635,"f":2.74},{"s":"HM","w":3640,"f":2.66},{"s":"HM","w":3645,"f":2.80},
{"s":"HM","w":3650,"f":2.70},{"s":"HM","w":3655,"f":2.76},{"s":"HM","w":3660,"f":2.68},{"s":"HM","w":3665,"f":2.82},{"s":"HM","w":3670,"f":2.72},{"s":"HM","w":3675,"f":2.78},{"s":"HM","w":3680,"f":2.66},{"s":"HM","w":3685,"f":2.74},{"s":"HM","w":3690,"f":2.80},{"s":"HM","w":3695,"f":2.70},
{"s":"HM","w":3700,"f":2.76},{"s":"HM","w":3705,"f":2.68},{"s":"HM","w":3710,"f":2.82},{"s":"HM","w":3715,"f":2.74},{"s":"HM","w":3720,"f":2.72},{"s":"HM","w":3725,"f":2.80},{"s":"HM","w":3730,"f":2.70},{"s":"HM","w":3735,"f":2.84},{"s":"HM","w":3740,"f":2.76},{"s":"HM","w":3745,"f":2.80},
{"s":"HM","w":3750,"f":2.72},{"s":"HM","w":3755,"f":2.86},{"s":"HM","w":3760,"f":2.78},{"s":"HM","w":3765,"f":2.74},{"s":"HM","w":3770,"f":2.90},{"s":"HM","w":3775,"f":2.80},{"s":"HM","w":3780,"f":2.84},{"s":"HM","w":3785,"f":2.76},{"s":"HM","w":3790,"f":2.88},{"s":"HM","w":3795,"f":2.80},
{"s":"HM","w":3800,"f":2.84},{"s":"HM","w":3805,"f":2.78},{"s":"HM","w":3810,"f":2.72},{"s":"HM","w":3815,"f":2.66},{"s":"HM","w":3820,"f":2.58},{"s":"HM","w":3825,"f":2.52},{"s":"HM","w":3830,"f":2.62},{"s":"HM","w":3835,"f":2.72},{"s":"HM","w":3840,"f":2.78},{"s":"HM","w":3845,"f":2.70},
{"s":"HM","w":3850,"f":2.82},{"s":"HM","w":3855,"f":2.76},{"s":"HM","w":3860,"f":2.90},{"s":"HM","w":3865,"f":2.84},{"s":"HM","w":3870,"f":2.78},{"s":"HM","w":3875,"f":2.92},{"s":"HM","w":3880,"f":2.86},{"s":"HM","w":3885,"f":2.80},{"s":"HM","w":3890,"f":2.94},{"s":"HM","w":3895,"f":2.88},
{"s":"HM","w":3900,"f":3.00},{"s":"HM","w":3905,"f":3.15},{"s":"HM","w":3910,"f":3.40},{"s":"HM","w":3915,"f":3.10},{"s":"HM","w":3920,"f":2.90},{"s":"HM","w":3925,"f":2.60},{"s":"HM","w":3930,"f":2.30},{"s":"HM","w":3935,"f":2.55},{"s":"HM","w":3940,"f":2.75},{"s":"HM","w":3945,"f":2.90},
{"s":"HM","w":3950,"f":2.70},{"s":"HM","w":3955,"f":2.55},{"s":"HM","w":3960,"f":2.80},{"s":"HM","w":3965,"f":2.95},{"s":"HM","w":3970,"f":2.75},{"s":"HM","w":3975,"f":3.00},{"s":"HM","w":3980,"f":3.20},{"s":"HM","w":3985,"f":3.10},{"s":"HM","w":3990,"f":3.35},{"s":"HM","w":3995,"f":3.30},
{"s":"HM","w":4000,"f":3.40},{"s":"HM","w":4005,"f":3.25},{"s":"HM","w":4010,"f":3.35},{"s":"HM","w":4015,"f":3.20},{"s":"HM","w":4020,"f":3.38},{"s":"HM","w":4025,"f":3.28},{"s":"HM","w":4030,"f":3.42},{"s":"HM","w":4035,"f":3.22},{"s":"HM","w":4040,"f":3.34},{"s":"HM","w":4045,"f":3.26},
{"s":"HM","w":4050,"f":3.36},{"s":"HM","w":4055,"f":3.24},{"s":"HM","w":4060,"f":3.40},{"s":"HM","w":4065,"f":3.18},{"s":"HM","w":4070,"f":3.32},{"s":"HM","w":4075,"f":3.26},{"s":"HM","w":4080,"f":3.44},{"s":"HM","w":4085,"f":3.22},{"s":"HM","w":4090,"f":3.30},{"s":"HM","w":4095,"f":3.20},
{"s":"HM","w":4100,"f":3.15},{"s":"HM","w":4105,"f":3.30},{"s":"HM","w":4110,"f":3.38},{"s":"HM","w":4115,"f":3.24},{"s":"HM","w":4120,"f":3.40},{"s":"HM","w":4125,"f":3.28},{"s":"HM","w":4130,"f":3.34},{"s":"HM","w":4135,"f":3.20},{"s":"HM","w":4140,"f":3.36},{"s":"HM","w":4145,"f":3.25},
{"s":"HM","w":4150,"f":3.10},{"s":"HM","w":4155,"f":3.00},{"s":"HM","w":4160,"f":2.85},{"s":"HM","w":4165,"f":2.75},{"s":"HM","w":4170,"f":2.68},{"s":"HM","w":4175,"f":2.80},{"s":"HM","w":4180,"f":2.95},{"s":"HM","w":4185,"f":3.15},{"s":"HM","w":4190,"f":3.05},{"s":"HM","w":4195,"f":3.30},
{"s":"HM","w":4200,"f":3.20},{"s":"HM","w":4205,"f":3.40},{"s":"HM","w":4210,"f":3.25},{"s":"HM","w":4215,"f":3.45},{"s":"HM","w":4220,"f":3.30},{"s":"HM","w":4225,"f":3.50},{"s":"HM","w":4230,"f":3.35},{"s":"HM","w":4235,"f":3.42},{"s":"HM","w":4240,"f":3.28},{"s":"HM","w":4245,"f":3.55},
{"s":"HM","w":4250,"f":3.38},{"s":"HM","w":4255,"f":3.48},{"s":"HM","w":4260,"f":3.30},{"s":"HM","w":4265,"f":3.60},{"s":"HM","w":4270,"f":3.40},{"s":"HM","w":4275,"f":3.76},{"s":"HM","w":4280,"f":3.45},{"s":"HM","w":4285,"f":3.52},{"s":"HM","w":4290,"f":3.36},{"s":"HM","w":4295,"f":3.58},
{"s":"HM","w":4300,"f":3.44},{"s":"HM","w":4305,"f":3.30},{"s":"HM","w":4310,"f":3.55},{"s":"HM","w":4315,"f":3.40},{"s":"HM","w":4320,"f":3.62},{"s":"HM","w":4325,"f":3.46},{"s":"HM","w":4330,"f":3.70},{"s":"HM","w":4335,"f":3.50},{"s":"HM","w":4340,"f":3.40},{"s":"HM","w":4345,"f":3.65},
{"s":"HM","w":4350,"f":3.48},{"s":"HM","w":4355,"f":3.75},{"s":"HM","w":4360,"f":3.55},{"s":"HM","w":4365,"f":3.40},{"s":"HM","w":4370,"f":3.80},{"s":"HM","w":4375,"f":3.60},{"s":"HM","w":4380,"f":3.45},{"s":"HM","w":4385,"f":3.85},{"s":"HM","w":4390,"f":3.55},{"s":"HM","w":4395,"f":3.72},
{"s":"HM","w":4400,"f":3.50},
{"s":"LM","w":3500,"f":0.80},{"s":"LM","w":3505,"f":0.55},{"s":"LM","w":3510,"f":0.95},{"s":"LM","w":3515,"f":0.60},{"s":"LM","w":3520,"f":1.05},{"s":"LM","w":3525,"f":0.70},{"s":"LM","w":3530,"f":0.45},{"s":"LM","w":3535,"f":0.85},{"s":"LM","w":3540,"f":0.65},{"s":"LM","w":3545,"f":0.98},
{"s":"LM","w":3550,"f":0.55},{"s":"LM","w":3555,"f":0.82},{"s":"LM","w":3560,"f":0.40},{"s":"LM","w":3565,"f":0.90},{"s":"LM","w":3570,"f":0.62},{"s":"LM","w":3575,"f":1.00},{"s":"LM","w":3580,"f":0.58},{"s":"LM","w":3585,"f":0.78},{"s":"LM","w":3590,"f":0.50},{"s":"LM","w":3595,"f":0.88},
{"s":"LM","w":3600,"f":0.68},{"s":"LM","w":3605,"f":0.95},{"s":"LM","w":3610,"f":0.52},{"s":"LM","w":3615,"f":0.80},{"s":"LM","w":3620,"f":0.60},{"s":"LM","w":3625,"f":0.92},{"s":"LM","w":3630,"f":0.48},{"s":"LM","w":3635,"f":0.75},{"s":"LM","w":3640,"f":0.62},{"s":"LM","w":3645,"f":0.86},
{"s":"LM","w":3650,"f":0.58},{"s":"LM","w":3655,"f":0.80},{"s":"LM","w":3660,"f":0.66},{"s":"LM","w":3665,"f":0.95},{"s":"LM","w":3670,"f":0.55},{"s":"LM","w":3675,"f":0.85},{"s":"LM","w":3680,"f":0.70},{"s":"LM","w":3685,"f":0.60},{"s":"LM","w":3690,"f":0.90},{"s":"LM","w":3695,"f":0.72},
{"s":"LM","w":3700,"f":0.85},{"s":"LM","w":3705,"f":0.62},{"s":"LM","w":3710,"f":1.00},{"s":"LM","w":3715,"f":0.75},{"s":"LM","w":3720,"f":1.25},{"s":"LM","w":3725,"f":0.80},{"s":"LM","w":3730,"f":0.70},{"s":"LM","w":3735,"f":0.95},{"s":"LM","w":3740,"f":0.65},{"s":"LM","w":3745,"f":0.88},
{"s":"LM","w":3750,"f":0.72},{"s":"LM","w":3755,"f":1.05},{"s":"LM","w":3760,"f":0.78},{"s":"LM","w":3765,"f":0.92},{"s":"LM","w":3770,"f":0.60},{"s":"LM","w":3775,"f":0.85},{"s":"LM","w":3780,"f":0.75},{"s":"LM","w":3785,"f":1.00},{"s":"LM","w":3790,"f":0.68},{"s":"LM","w":3795,"f":0.90},
{"s":"LM","w":3800,"f":0.78},{"s":"LM","w":3805,"f":0.62},{"s":"LM","w":3810,"f":0.85},{"s":"LM","w":3815,"f":0.50},{"s":"LM","w":3820,"f":0.30},{"s":"LM","w":3825,"f":0.22},{"s":"LM","w":3830,"f":0.45},{"s":"LM","w":3835,"f":0.70},{"s":"LM","w":3840,"f":0.58},{"s":"LM","w":3845,"f":0.90},
{"s":"LM","w":3850,"f":0.75},{"s":"LM","w":3855,"f":1.00},{"s":"LM","w":3860,"f":0.65},{"s":"LM","w":3865,"f":0.95},{"s":"LM","w":3870,"f":0.80},{"s":"LM","w":3875,"f":1.10},{"s":"LM","w":3880,"f":0.72},{"s":"LM","w":3885,"f":0.60},{"s":"LM","w":3890,"f":0.85},{"s":"LM","w":3895,"f":0.55},
{"s":"LM","w":3900,"f":1.00},{"s":"LM","w":3905,"f":1.40},{"s":"LM","w":3910,"f":2.05},{"s":"LM","w":3915,"f":1.30},{"s":"LM","w":3920,"f":1.70},{"s":"LM","w":3925,"f":1.10},{"s":"LM","w":3930,"f":1.55},{"s":"LM","w":3935,"f":0.90},{"s":"LM","w":3940,"f":1.60},{"s":"LM","w":3945,"f":1.20},
{"s":"LM","w":3950,"f":1.75},{"s":"LM","w":3955,"f":0.80},{"s":"LM","w":3960,"f":0.60},{"s":"LM","w":3965,"f":0.25},{"s":"LM","w":3970,"f":0.70},{"s":"LM","w":3975,"f":1.15},{"s":"LM","w":3980,"f":0.95},{"s":"LM","w":3985,"f":1.40},{"s":"LM","w":3990,"f":1.05},{"s":"LM","w":3995,"f":1.80},
{"s":"LM","w":4000,"f":1.25},{"s":"LM","w":4005,"f":1.50},{"s":"LM","w":4010,"f":0.95},{"s":"LM","w":4015,"f":1.35},{"s":"LM","w":4020,"f":1.10},{"s":"LM","w":4025,"f":1.60},{"s":"LM","w":4030,"f":1.00},{"s":"LM","w":4035,"f":1.30},{"s":"LM","w":4040,"f":0.85},{"s":"LM","w":4045,"f":1.45},
{"s":"LM","w":4050,"f":1.15},{"s":"LM","w":4055,"f":1.35},{"s":"LM","w":4060,"f":0.90},{"s":"LM","w":4065,"f":1.25},{"s":"LM","w":4070,"f":1.05},{"s":"LM","w":4075,"f":1.40},{"s":"LM","w":4080,"f":0.95},{"s":"LM","w":4085,"f":1.20},{"s":"LM","w":4090,"f":0.85},{"s":"LM","w":4095,"f":1.10},
{"s":"LM","w":4100,"f":0.75},{"s":"LM","w":4105,"f":1.00},{"s":"LM","w":4110,"f":1.30},{"s":"LM","w":4115,"f":0.90},{"s":"LM","w":4120,"f":1.50},{"s":"LM","w":4125,"f":1.05},{"s":"LM","w":4130,"f":1.35},{"s":"LM","w":4135,"f":0.95},{"s":"LM","w":4140,"f":1.60},{"s":"LM","w":4145,"f":1.20},
{"s":"LM","w":4150,"f":0.95},{"s":"LM","w":4155,"f":1.25},{"s":"LM","w":4160,"f":0.80},{"s":"LM","w":4165,"f":1.05},{"s":"LM","w":4170,"f":0.70},{"s":"LM","w":4175,"f":0.90},{"s":"LM","w":4180,"f":0.75},{"s":"LM","w":4185,"f":1.15},{"s":"LM","w":4190,"f":0.85},{"s":"LM","w":4195,"f":1.40},
{"s":"LM","w":4200,"f":1.00},{"s":"LM","w":4205,"f":1.70},{"s":"LM","w":4210,"f":1.20},{"s":"LM","w":4215,"f":1.90},{"s":"LM","w":4220,"f":0.95},{"s":"LM","w":4225,"f":1.50},{"s":"LM","w":4230,"f":1.15},{"s":"LM","w":4235,"f":2.05},{"s":"LM","w":4240,"f":1.35},{"s":"LM","w":4245,"f":1.80},
{"s":"LM","w":4250,"f":1.10},{"s":"LM","w":4255,"f":2.60},{"s":"LM","w":4260,"f":1.40},{"s":"LM","w":4265,"f":1.85},{"s":"LM","w":4270,"f":0.90},{"s":"LM","w":4275,"f":1.60},{"s":"LM","w":4280,"f":1.25},{"s":"LM","w":4285,"f":2.20},{"s":"LM","w":4290,"f":1.00},{"s":"LM","w":4295,"f":1.70},
{"s":"LM","w":4300,"f":1.30},{"s":"LM","w":4305,"f":0.75},{"s":"LM","w":4310,"f":1.95},{"s":"LM","w":4315,"f":1.15},{"s":"LM","w":4320,"f":1.60},{"s":"LM","w":4325,"f":0.85},{"s":"LM","w":4330,"f":2.30},{"s":"LM","w":4335,"f":1.40},{"s":"LM","w":4340,"f":1.05},{"s":"LM","w":4345,"f":1.90},
{"s":"LM","w":4350,"f":1.25},{"s":"LM","w":4355,"f":2.10},{"s":"LM","w":4360,"f":0.95},{"s":"LM","w":4365,"f":1.70},{"s":"LM","w":4370,"f":1.35},{"s":"LM","w":4375,"f":2.40},{"s":"LM","w":4380,"f":1.10},{"s":"LM","w":4385,"f":1.85},{"s":"LM","w":4390,"f":1.50},{"s":"LM","w":4395,"f":2.90},
{"s":"LM","w":4400,"f":1.80}
]
},
"hconcat": [
{
"width": 243, "height": 241,
"resolve": {"axis": {"x": "independent", "y": "independent"}},
"layer": [
{"data": {"name": "L"}, "mark": {"type": "line", "strokeWidth": 1.1},
 "encoding": {
  "x": {"field": "w", "type": "quantitative", "scale": {"domain": [3500, 4400], "nice": false, "zero": false},
   "axis": {"orient": "bottom", "values": [3550,3600,3650,3700,3750,3800,3850,3900,3950,4000,4050,4100,4150,4200,4250,4300,4350,4400], "format": "d", "labelExpr": "datum.value % 200 === 0 ? datum.label : ''", "tickSize": 0, "labelPadding": 4, "labelFont": "Liberation Serif", "labelFontWeight": "bold", "labelFontSize": 9.5, "labelOverlap": false, "labelFlush": false, "labelBound": false, "title": "Wavelength (Angstroms)", "titleFont": "DejaVu Serif", "titleFontSize": 8.5, "titleFontWeight": "bold", "titlePadding": 2, "encode": {"ticks": {"update": {"y2": {"signal": "datum.value % 200 === 0 ? -6 : -3"}}}}}},
  "y": {"field": "f", "type": "quantitative", "scale": {"domain": [0, 12], "nice": false},
   "axis": {"orient": "left", "values": [0,1,2,3,4,5,6,7,8,9,10,11,12], "labelExpr": "datum.value % 2 === 0 ? datum.label : ''", "tickSize": 0, "labelPadding": 3.5, "labelFont": "Liberation Serif", "labelFontWeight": "bold", "labelFontSize": 9.5, "labelOverlap": false, "labelFlush": false, "labelBound": false, "title": "Normalized Flux+Constant", "titleFont": "DejaVu Serif", "titleFontSize": 8.5, "titleFontWeight": "bold", "titlePadding": 5, "encode": {"ticks": {"update": {"x2": {"signal": "datum.value % 2 === 0 ? 6 : 3"}}}}}},
  "color": {"field": "s", "type": "nominal", "scale": {"domain": ["HD","ID","LD","HM","LM"], "range": ["#ee1818","#22e022","#1414c8","#000000","#e41ee4"]}, "legend": null}
 }},
{"data": {"name": "lines"}, "mark": {"type": "rule", "strokeDash": [1, 2], "color": "black", "strokeWidth": 1},
 "encoding": {"x": {"field": "w", "type": "quantitative", "axis": null}, "y": {"datum": 0, "axis": null}, "y2": {"datum": 11}}},
{"data": {"name": "lines"}, "transform": [{"filter": "datum.n !== 'MgI'"}], "mark": {"type": "text", "font": "DejaVu Serif", "fontWeight": "bold", "fontSize": 7.5, "color": "black", "baseline": "middle"},
 "encoding": {"x": {"field": "w", "type": "quantitative", "axis": null}, "y": {"datum": 11.55, "axis": null}, "text": {"field": "n"}}},
{"data": {"name": "lines"}, "transform": [{"filter": "datum.n === 'MgI'"}], "mark": {"type": "text", "font": "DejaVu Serif", "fontWeight": "bold", "fontSize": 7.5, "color": "black", "baseline": "middle", "dx": -3},
 "encoding": {"x": {"field": "w", "type": "quantitative", "axis": null}, "y": {"datum": 11.55, "axis": null}, "text": {"field": "n"}}},
{"data": {"name": "labL"}, "mark": {"type": "text", "font": "DejaVu Serif", "fontWeight": "bold", "fontSize": 8, "align": "right", "baseline": "middle"},
 "encoding": {
  "x": {"field": "w", "type": "quantitative", "axis": {"orient": "top", "values": [3550,3600,3650,3700,3750,3800,3850,3900,3950,4000,4050,4100,4150,4200,4250,4300,4350], "labels": false, "tickSize": 0, "title": null, "encode": {"ticks": {"update": {"y2": {"signal": "datum.value % 200 === 0 ? 6 : 3"}}}}}},
  "y": {"field": "f", "type": "quantitative", "axis": {"orient": "right", "values": [1,2,3,4,5,6,7,8,9,10,11], "labels": false, "tickSize": 0, "title": null, "encode": {"ticks": {"update": {"x2": {"signal": "datum.value % 2 === 0 ? -6 : -3"}}}}}},
  "text": {"field": "t"},
  "color": {"field": "s", "type": "nominal", "legend": null}
 }}
]
},
{
"width": 243, "height": 241,
"resolve": {"axis": {"x": "independent", "y": "independent"}},
"layer": [
{"data": {"name": "R"}, "mark": {"type": "line", "strokeWidth": 1},
 "encoding": {
  "x": {"field": "w", "type": "quantitative", "scale": {"domain": [3500, 4400], "nice": false, "zero": false},
   "axis": {"orient": "bottom", "values": [3550,3600,3650,3700,3750,3800,3850,3900,3950,4000,4050,4100,4150,4200,4250,4300,4350,4400], "format": "d", "labelExpr": "datum.value % 200 === 0 ? datum.label : ''", "tickSize": 0, "labelPadding": 4, "labelFont": "Liberation Serif", "labelFontWeight": "bold", "labelFontSize": 9.5, "labelOverlap": false, "labelFlush": false, "labelBound": false, "title": "Wavelength (Angstroms)", "titleFont": "DejaVu Serif", "titleFontSize": 8.5, "titleFontWeight": "bold", "titlePadding": 2, "encode": {"ticks": {"update": {"y2": {"signal": "datum.value % 200 === 0 ? -6 : -3"}}}}}},
  "y": {"field": "f", "type": "quantitative", "scale": {"domain": [0, 12], "nice": false},
   "axis": {"orient": "left", "values": [0,1,2,3,4,5,6,7,8,9,10,11,12], "labelExpr": "datum.value % 2 === 0 ? datum.label : ''", "tickSize": 0, "labelPadding": 3.5, "labelFont": "Liberation Serif", "labelFontWeight": "bold", "labelFontSize": 9.5, "labelOverlap": false, "labelFlush": false, "labelBound": false, "title": "Normalized Flux+Constant", "titleFont": "DejaVu Serif", "titleFontSize": 8.5, "titleFontWeight": "bold", "titlePadding": 5, "encode": {"ticks": {"update": {"x2": {"signal": "datum.value % 2 === 0 ? 6 : 3"}}}}}},
  "color": {"field": "s", "type": "nominal", "scale": {"domain": ["HD","ID","LD","HM","LM"], "range": ["#ee1818","#22e022","#1414c8","#000000","#e41ee4"]}, "legend": null}
 }},
{"data": {"name": "lines"}, "mark": {"type": "rule", "strokeDash": [1, 2], "color": "black", "strokeWidth": 1},
 "encoding": {"x": {"field": "w", "type": "quantitative", "axis": null}, "y": {"datum": 0, "axis": null}, "y2": {"datum": 11}}},
{"data": {"name": "lines"}, "transform": [{"filter": "datum.n !== 'MgI'"}], "mark": {"type": "text", "font": "DejaVu Serif", "fontWeight": "bold", "fontSize": 7.5, "color": "black", "baseline": "middle"},
 "encoding": {"x": {"field": "w", "type": "quantitative", "axis": null}, "y": {"datum": 11.55, "axis": null}, "text": {"field": "n"}}},
{"data": {"name": "lines"}, "transform": [{"filter": "datum.n === 'MgI'"}], "mark": {"type": "text", "font": "DejaVu Serif", "fontWeight": "bold", "fontSize": 7.5, "color": "black", "baseline": "middle", "dx": -3},
 "encoding": {"x": {"field": "w", "type": "quantitative", "axis": null}, "y": {"datum": 11.55, "axis": null}, "text": {"field": "n"}}},
{"data": {"name": "labR"}, "mark": {"type": "text", "font": "DejaVu Serif", "fontWeight": "bold", "fontSize": 8, "align": "left", "baseline": "middle"},
 "encoding": {
  "x": {"field": "w", "type": "quantitative", "axis": {"orient": "top", "values": [3550,3600,3650,3700,3750,3800,3850,3900,3950,4000,4050,4100,4150,4200,4250,4300,4350], "labels": false, "tickSize": 0, "title": null, "encode": {"ticks": {"update": {"y2": {"signal": "datum.value % 200 === 0 ? 6 : 3"}}}}}},
  "y": {"field": "f", "type": "quantitative", "axis": {"orient": "right", "values": [1,2,3,4,5,6,7,8,9,10,11], "labels": false, "tickSize": 0, "title": null, "encode": {"ticks": {"update": {"x2": {"signal": "datum.value % 2 === 0 ? -6 : -3"}}}}}},
  "text": {"field": "t"},
  "color": {"field": "s", "type": "nominal", "legend": null}
 }}
]
}
]
}
